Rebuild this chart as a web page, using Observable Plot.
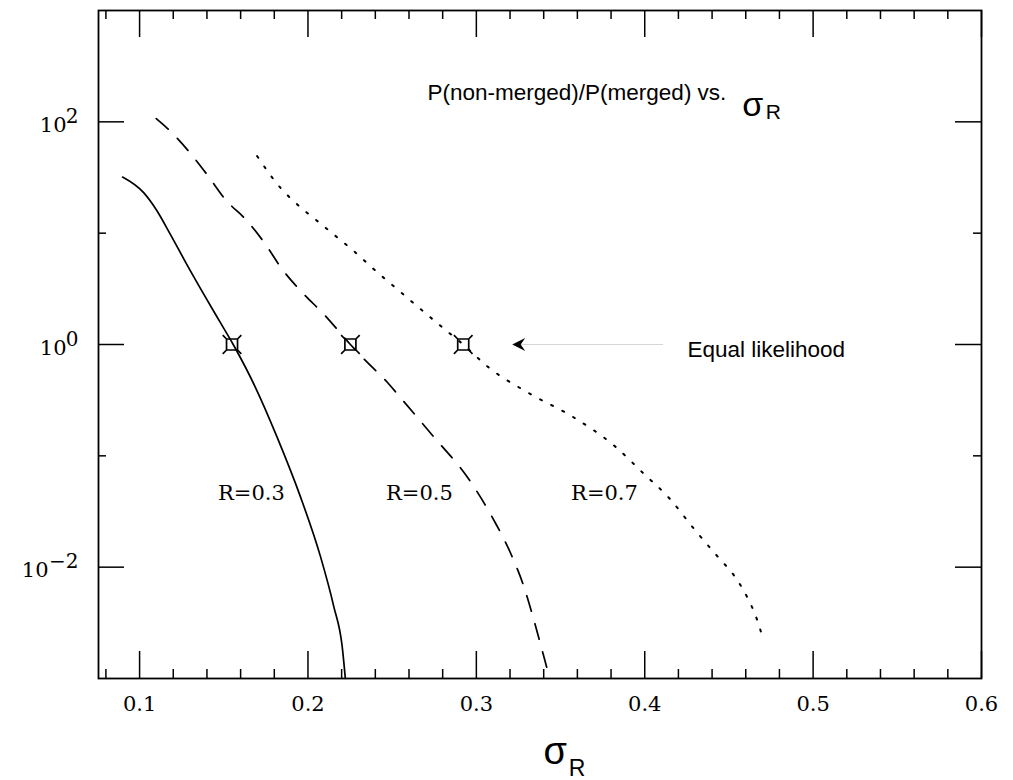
<!DOCTYPE html>
<html><head><meta charset="utf-8">
<script src="https://cdn.jsdelivr.net/npm/d3@7"></script>
<script src="https://cdn.jsdelivr.net/npm/@observablehq/plot@0.6"></script>
<style>body{margin:0;background:#fff;} svg{display:block}</style>
</head><body><div id="chart"></div>
<script>
// ---- data ----
const solidX = [0.0899,0.1024,0.1103,0.1182,0.1272,0.1380,0.1480,0.1556,0.1687,0.1816,0.1955,0.2074,0.2153,0.2203,0.2222];
const solidY = [31.9,23.1,15.9,9.8,5.53,2.85,1.57,1.0,0.415,0.148,0.043,0.0125,0.00445,0.00195,0.001];
const dashedX = [0.1099,0.1163,0.1291,0.1400,0.1509,0.1638,0.1747,0.1846,0.1965,0.2093,0.2252,0.2341,0.2470,0.2529,0.2747,0.2945,0.3103,0.3203,0.3282,0.3341,0.3400,0.3436];
const dashedY = [107,88,54.5,33.7,20.1,12.9,7.97,4.76,2.94,1.88,1.0,0.719,0.46,0.362,0.148,0.0649,0.0266,0.0134,0.00671,0.00338,0.00159,0.001];
const dottedX = [0.1698,0.1836,0.1935,0.2054,0.2163,0.2282,0.2390,0.2506,0.2785,0.2922,0.3071,0.3317,0.3573,0.3828,0.3992,0.4146,0.4289,0.4432,0.4534,0.4606,0.4667,0.4698];
const dottedY = [49.2,25.6,18.2,12.9,9.46,6.70,4.76,3.37,1.48,1.0,0.626,0.362,0.224,0.120,0.0696,0.0416,0.0224,0.0125,0.00826,0.00547,0.00338,0.0024];
const markerX = [0.1549,0.2252,0.2922];
const markerY = [1,1,1];
const curveLabels = ["R=0.3","R=0.5","R=0.7"];
const curveLabelX = [0.1664,0.2662,0.3761];
const curveLabelY = 0.0401;
const xMajor = [0.1,0.2,0.3,0.4,0.5,0.6];
const xMinor = [0.08,0.12,0.14,0.16,0.18,0.22,0.24,0.26,0.28,0.32,0.34,0.36,0.38,0.42,0.44,0.46,0.48,0.52,0.54,0.56,0.58];
const yMajor = [1e-2,1,1e2];
const yMajorExp = ["\u22122","0","2"];
const yMinor = [1e-1,1e1];
const arrowTipX = 0.3213, arrowTailX = 0.4112, arrowY = 1;
const noteText = "Equal likelihood", noteX = 0.4254;
const titleText = "P(non-merged)/P(merged) vs.", titleX = 0.2710, titleSigmaX = 0.4579, titleSubX = 0.4718;
const axisSigmaX = 0.3399, axisSubX = 0.3549;

// ---- symbols ----
const boxSymbol = {draw(ctx) {
  const h = 5.5, w = 9.3;
  ctx.moveTo(-h,-h); ctx.lineTo(h,-h); ctx.lineTo(h,h); ctx.lineTo(-h,h); ctx.closePath();
  ctx.moveTo(-h,-h); ctx.lineTo(-w,-w);
  ctx.moveTo(h,-h); ctx.lineTo(w,-w);
  ctx.moveTo(h,h); ctx.lineTo(w,w);
  ctx.moveTo(-h,h); ctx.lineTo(-w,w);
}};
const arrowSymbol = {draw(ctx) {
  ctx.moveTo(0,0); ctx.lineTo(13,-6.5); ctx.lineTo(8.5,0); ctx.lineTo(13,6.5); ctx.closePath();
}};

const solid = solidX.map((x,i)=>({x, y: solidY[i]}));
const dashed = dashedX.map((x,i)=>({x, y: dashedY[i]}));
const dotted = dottedX.map((x,i)=>({x, y: dottedY[i]}));
const markers = markerX.map((x,i)=>({x, y: markerY[i]}));
const labels = curveLabels.map((t,i)=>({t, x: curveLabelX[i], y: curveLabelY}));
const yLab = yMajor.map((v,i)=>({v, e: yMajorExp[i]}));

const serif = "DejaVu Serif";
const sans = "Liberation Sans, Arial, Helvetica, sans-serif";

const chart = Plot.plot({
  width: 1013, height: 780,
  marginLeft: 98, marginRight: 32, marginTop: 10, marginBottom: 102,
  x: {domain: [0.0756, 0.6], axis: null},
  y: {type: "log", domain: [1e-3, 1e3], axis: null},
  style: {background: "white", color: "black"},
  marks: [
    Plot.frame({stroke: "black", strokeWidth: 1.8}),
    Plot.ruleX(xMajor, {x: d=>d, insetTop: 641, stroke: "black", strokeWidth: 1.5}),
    Plot.ruleX(xMajor, {x: d=>d, insetBottom: 641, stroke: "black", strokeWidth: 1.5}),
    Plot.ruleX(xMinor, {x: d=>d, insetTop: 659, stroke: "black", strokeWidth: 1.5}),
    Plot.ruleX(xMinor, {x: d=>d, insetBottom: 659, stroke: "black", strokeWidth: 1.5}),
    Plot.ruleY(yMajor, {y: d=>d, insetRight: 857, stroke: "black", strokeWidth: 1.5}),
    Plot.ruleY(yMajor, {y: d=>d, insetLeft: 857, stroke: "black", strokeWidth: 1.5}),
    Plot.ruleY(yMinor, {y: d=>d, insetRight: 875, stroke: "black", strokeWidth: 1.5}),
    Plot.ruleY(yMinor, {y: d=>d, insetLeft: 875, stroke: "black", strokeWidth: 1.5}),
    // tick labels
    Plot.text(xMajor, {x: d=>d, text: d=>d.toFixed(1), frameAnchor: "bottom", lineAnchor: "bottom", dy: 32, fontFamily: serif, fontSize: 21, fill: "black"}),
    Plot.text(yLab, {y: "v", text: "e", frameAnchor: "left", textAnchor: "end", lineAnchor: "bottom", dx: -20, dy: 1, fontFamily: serif, fontSize: 20, fill: "black"}),
    Plot.text(yLab.filter(d=>d.v>=1), {y: "v", text: ()=>"10", frameAnchor: "left", textAnchor: "end", lineAnchor: "bottom", dx: -32, dy: 10, fontFamily: serif, fontSize: 21, fill: "black"}),
    Plot.text(yLab.filter(d=>d.v<1), {y: "v", text: ()=>"10", frameAnchor: "left", textAnchor: "end", lineAnchor: "bottom", dx: -50, dy: 10, fontFamily: serif, fontSize: 21, fill: "black"}),
    // curves
    Plot.line(solid, {x: "x", y: "y", curve: "monotone-x", stroke: "black", strokeWidth: 1.7}),
    Plot.line(dashed, {x: "x", y: "y", curve: "monotone-x", stroke: "black", strokeWidth: 1.7, strokeDasharray: "16,13"}),
    Plot.line(dotted, {x: "x", y: "y", curve: "monotone-x", stroke: "black", strokeWidth: 2, strokeDasharray: "2,10.5"}),
    Plot.dot(markers, {x: "x", y: "y", symbol: boxSymbol, fill: "none", stroke: "black", strokeWidth: 1.7}),
    // arrow
    Plot.ruleY([arrowY], {y: d=>d, x1: arrowTipX + 0.001, x2: arrowTailX, stroke: "#d6d6d6", strokeWidth: 1}),
    Plot.dot([arrowTipX], {x: d=>d, y: ()=>arrowY, symbol: arrowSymbol, fill: "black", stroke: "none"}),
    Plot.text([noteText], {x: ()=>noteX, y: ()=>arrowY, text: d=>d, textAnchor: "start", lineAnchor: "bottom", dy: 12, fontFamily: sans, fontSize: 22.5, fill: "black"}),
    // curve labels
    Plot.text(labels, {x: "x", y: "y", text: "t", lineAnchor: "bottom", fontFamily: serif, fontSize: 21, fill: "black"}),
    // title
    Plot.text([titleText], {x: ()=>titleX, text: d=>d, frameAnchor: "top", textAnchor: "start", lineAnchor: "bottom", dy: 89, fontFamily: sans, fontSize: 22.5, fill: "black"}),
    Plot.text(["\u03c3"], {x: ()=>titleSigmaX, text: d=>d, frameAnchor: "top", textAnchor: "start", lineAnchor: "bottom", dy: 105, fontFamily: sans, fontSize: 34, fill: "black"}),
    Plot.text(["R"], {x: ()=>titleSubX, text: d=>d, frameAnchor: "top", textAnchor: "start", lineAnchor: "bottom", dy: 108, fontFamily: sans, fontSize: 21, fill: "black"}),
    // x axis label
    Plot.text(["\u03c3"], {x: ()=>axisSigmaX, text: d=>d, frameAnchor: "bottom", textAnchor: "start", lineAnchor: "bottom", dy: 85, fontFamily: sans, fontSize: 38, fill: "black"}),
    Plot.text(["R"], {x: ()=>axisSubX, text: d=>d, frameAnchor: "bottom", textAnchor: "start", lineAnchor: "bottom", dy: 97, fontFamily: sans, fontSize: 23, fill: "black"})
  ]
});
document.getElementById("chart").append(chart);
</script>
</body></html>
